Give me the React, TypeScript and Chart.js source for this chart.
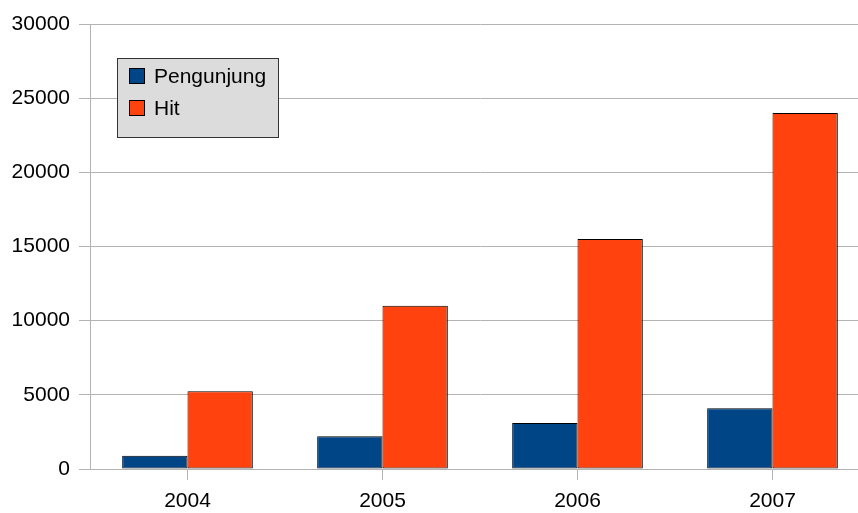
import React, { useEffect, useRef } from "react";
import { Chart, registerables } from "chart.js";

Chart.register(...registerables);

const categories = ["2004", "2005", "2006", "2007"];
const pengunjung = [900, 2200, 3100, 4100];
const hit = [5250, 11000, 15500, 24000];
const seriesLabels = ["Pengunjung", "Hit"];
const seriesColors = ["#004586", "#ff420e"];
const yTicks = [0, 5000, 10000, 15000, 20000, 25000, 30000];

const FONT = "'Liberation Sans', Arial, sans-serif";

const boxLegend = {
  id: "boxLegend",
  afterDraw(chart: any) {
    const ctx = chart.ctx;
    const x0 = 117.5, y0 = 58.5, w = 161, h = 79;
    ctx.save();
    ctx.fillStyle = "#dcdcdc";
    ctx.fillRect(x0, y0, w, h);
    ctx.strokeStyle = "#333333";
    ctx.lineWidth = 1;
    ctx.strokeRect(x0, y0, w, h);
    ctx.font = `21px ${FONT}`;
    ctx.textBaseline = "middle";
    ctx.textAlign = "left";
    chart.data.datasets.forEach((ds: any, i: number) => {
      const sy = 68.5 + i * 32;
      ctx.fillStyle = ds.backgroundColor;
      ctx.fillRect(129.5, sy, 15, 15);
      ctx.strokeStyle = "#000000";
      ctx.strokeRect(129.5, sy, 15, 15);
      ctx.fillStyle = "#000000";
      ctx.fillText(ds.label, 154, sy + 9);
    });
    ctx.restore();
  },
};

export default function App() {
  const ref = useRef<HTMLCanvasElement>(null);
  useEffect(() => {
    if (!ref.current) return;
    const chart = new Chart(ref.current, {
      type: "bar",
      data: {
        labels: categories,
        datasets: [
          {
            label: seriesLabels[0],
            data: pengunjung,
            backgroundColor: seriesColors[0],
            borderColor: "#000000",
            borderWidth: 1,
            borderSkipped: false,
            categoryPercentage: 0.67,
            barPercentage: 1,
          },
          {
            label: seriesLabels[1],
            data: hit,
            backgroundColor: seriesColors[1],
            borderColor: "#000000",
            borderWidth: 1,
            borderSkipped: false,
            categoryPercentage: 0.67,
            barPercentage: 1,
          },
        ],
      },
      options: {
        responsive: false,
        animation: false,
        layout: { padding: { left: 0, right: 10, top: 24, bottom: 0 } },
        plugins: { legend: { display: false }, tooltip: { enabled: false } },
        scales: {
          x: {
            grid: {
              drawOnChartArea: false,
              drawTicks: true,
              tickLength: 11,
              offset: false,
              color: "#b3b3b3",
            },
            border: { color: "#b3b3b3" },
            ticks: {
              color: "#000000",
              font: { family: FONT, size: 21 },
              padding: 9,
            },
            afterFit(scale: any) {
              scale.height = 44;
            },
          },
          y: {
            min: 0,
            max: 30000,
            afterBuildTicks(scale: any) {
              scale.ticks = yTicks.map((v) => ({ value: v }));
            },
            grid: { color: "#b3b3b3", tickLength: 11 },
            border: { color: "#b3b3b3" },
            ticks: {
              color: "#000000",
              font: { family: FONT, size: 21 },
              padding: 9,
              callback: (v: any) => String(v),
            },
            afterFit(scale: any) {
              scale.width = 90;
            },
          },
        },
      },
      plugins: [boxLegend],
    });
    return () => chart.destroy();
  }, []);
  return (
    <div
      style={{
        position: "fixed",
        left: 0,
        top: 0,
        width: 858,
        height: 513,
        overflow: "hidden",
        background: "#ffffff",
      }}
    >
      <canvas ref={ref} width={880} height={513} style={{ width: 880, height: 513 }} />
    </div>
  );
}
